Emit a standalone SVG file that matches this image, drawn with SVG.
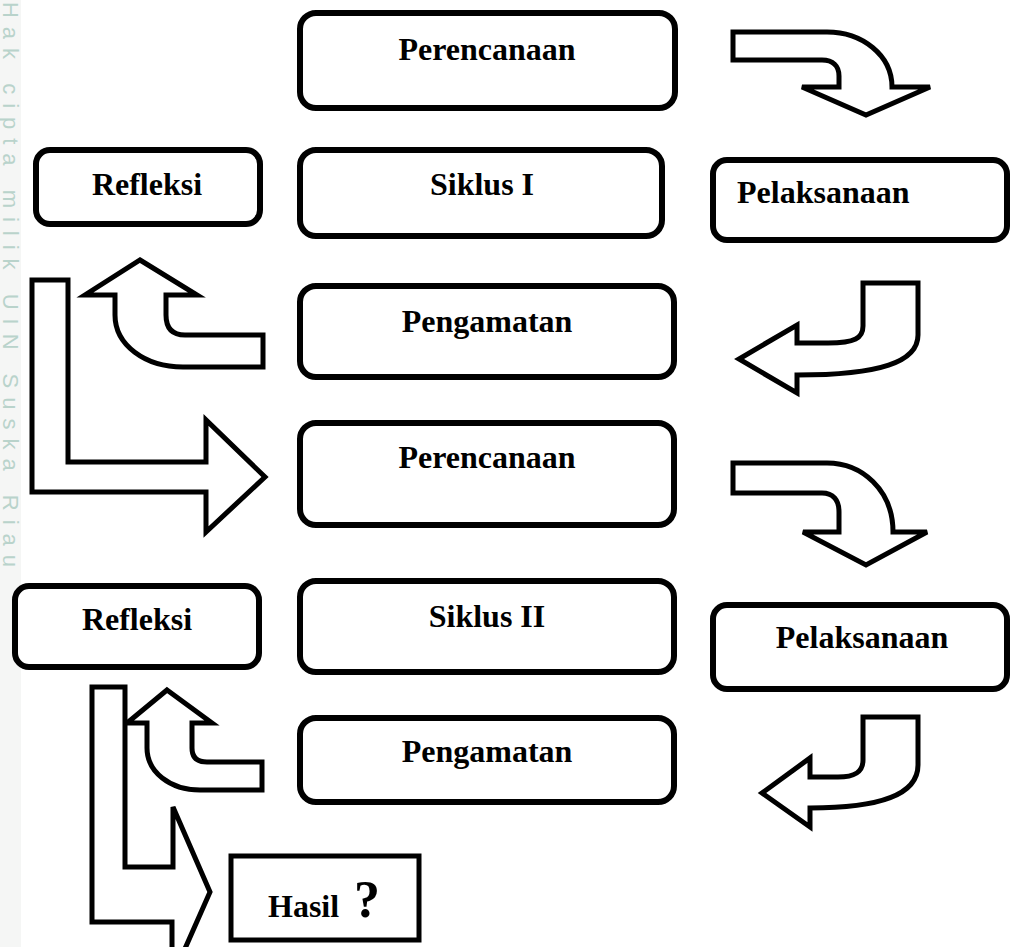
<svg xmlns="http://www.w3.org/2000/svg" width="1013" height="947" viewBox="0 0 1013 947">
<style>
.box{fill:#fff;stroke:#000;stroke-width:6}
.arr{fill:#fff;stroke:#000;stroke-width:5;stroke-linejoin:miter}
.lbl{font-family:"Liberation Serif","Times New Roman",serif;font-weight:bold;font-size:32px;fill:#000}
.q{font-size:52px}
.wm{font-family:"Liberation Sans",Arial,sans-serif;font-size:22px;fill:#b9d3cb}
</style>
<rect x="0" y="0" width="1013" height="947" fill="#fff"/>
<rect x="0" y="0" width="21" height="947" fill="#f5f6f5"/>
<text class="wm" transform="translate(3,2) rotate(90)" textLength="565" lengthAdjust="spacing">Hak cipta milik UIN Suska Riau</text>

<g id="connectors">
  <path id="a1" class="arr" d="M733,32 H827 C862,32 892,55 892,87 H930 L866,115 L802,87 H839 V76 C839,66 833,60 822,60 H733 Z"/>
  <path id="a2" class="arr" d="M863,283 H918 V335 C918,362 880,375 797,375 V393 L739,359 L797,325 V343 H828 C855,343 863,338 863,326 Z"/>
  <path id="a3" class="arr" d="M140,260 L197,295 H166 V315 C166,328 172,335 185,335 H263 V367 H183 C145,367 115,345 115,315 V295 H85 Z"/>
  <path id="a4" class="arr" d="M32,280 H68 V462 H206 V420 L265,477 L206,532 V492 H32 Z"/>
  <path id="a5" class="arr" d="M733,463 H827 C862,463 893,490 893,532 H927 L866,565 L803,532 H839 V512 C839,500 833,493 822,493 H733 Z"/>
  <path id="a6" class="arr" d="M863,717 H918 V765 C918,795 880,808 810,808 V827 L762,793 L810,758 V777 H838 C855,777 863,772 863,760 Z"/>
  <path id="a7" class="arr" d="M167,690 L212,723 H192 V748 C192,757 197,762 207,762 H262 V790 H200 C170,790 147,772 147,748 V723 H127 Z"/>
  <path id="a8" class="arr" d="M92,687 H125 V867 H173 V807 L210,892 L172,978 V922 H92 Z"/>
</g>

<g id="n-perencanaan1"><rect class="box" x="300" y="13" width="375" height="95" rx="16"/><text class="lbl" x="487" y="60" text-anchor="middle">Perencanaan</text></g>
<g id="n-siklus1"><rect class="box" x="300" y="150" width="362" height="86" rx="16"/><text class="lbl" x="482" y="195" text-anchor="middle">Siklus I</text></g>
<g id="n-refleksi1"><rect class="box" x="36" y="150" width="224" height="74" rx="14"/><text class="lbl" x="147" y="195" text-anchor="middle">Refleksi</text></g>
<g id="n-pelaksanaan1"><rect class="box" x="713" y="160" width="294" height="80" rx="14"/><text class="lbl" x="737" y="203">Pelaksanaan</text></g>
<g id="n-pengamatan1"><rect class="box" x="300" y="286" width="374" height="91" rx="16"/><text class="lbl" x="487" y="332" text-anchor="middle">Pengamatan</text></g>
<g id="n-perencanaan2"><rect class="box" x="300" y="423" width="374" height="102" rx="16"/><text class="lbl" x="487" y="468" text-anchor="middle">Perencanaan</text></g>
<g id="n-refleksi2"><rect class="box" x="15" y="586" width="244" height="81" rx="14"/><text class="lbl" x="137" y="630" text-anchor="middle">Refleksi</text></g>
<g id="n-siklus2"><rect class="box" x="300" y="581" width="374" height="91" rx="16"/><text class="lbl" x="487" y="627" text-anchor="middle">Siklus II</text></g>
<g id="n-pelaksanaan2"><rect class="box" x="713" y="605" width="294" height="84" rx="14"/><text class="lbl" x="862" y="648" text-anchor="middle">Pelaksanaan</text></g>
<g id="n-pengamatan2"><rect class="box" x="300" y="718" width="374" height="84" rx="16"/><text class="lbl" x="487" y="762" text-anchor="middle">Pengamatan</text></g>
<g id="n-hasil"><rect class="box" x="231" y="856" width="188" height="84" style="stroke-width:5"/><text class="lbl" x="268" y="917">Hasil</text><text class="lbl q" x="354" y="917">?</text></g>
</svg>
